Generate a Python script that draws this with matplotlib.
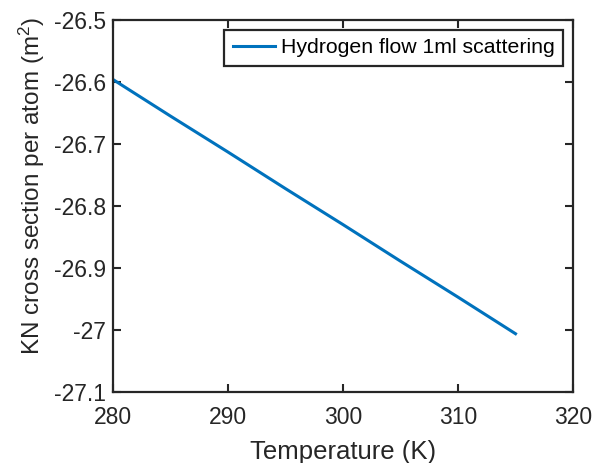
import matplotlib
matplotlib.use("Agg")
import matplotlib.pyplot as plt

# values
temperature = [280, 285, 290, 295, 300, 305, 310, 315]
kn_cross_section = [-26.596, -26.655, -26.713, -26.772, -26.830, -26.889, -26.947, -27.006]
x_ticks = [280, 290, 300, 310, 320]
y_ticks = [-27.1, -27.0, -26.9, -26.8, -26.7, -26.6, -26.5]
y_tick_labels = ["-27.1", "-27", "-26.9", "-26.8", "-26.7", "-26.6", "-26.5"]

plt.rcParams["font.family"] = ["Liberation Sans", "DejaVu Sans"]
plt.rcParams["mathtext.fontset"] = "custom"
plt.rcParams["mathtext.rm"] = "Liberation Sans"

fig = plt.figure(figsize=(5.94, 4.63), dpi=100)
ax = fig.add_axes([113 / 594, 1 - 392 / 463, 460 / 594, 372 / 463])

ax.plot(temperature, kn_cross_section, color="#0072BD", linewidth=2.2,
        label="Hydrogen flow 1ml scattering")

ax.set_xlim(280, 320)
ax.set_ylim(-27.1, -26.5)
ax.set_xticks(x_ticks)
ax.set_yticks(y_ticks)
ax.set_yticklabels(y_tick_labels)

ax.tick_params(direction="in", top=True, right=True, length=6, width=1.5,
               labelsize=16.5, color="#262626", labelcolor="#262626")
ax.tick_params(axis="x", pad=10)
ax.tick_params(axis="y", pad=5)
for spine in ax.spines.values():
    spine.set_linewidth(1.6)
    spine.set_color("#262626")

ax.set_xlabel("Temperature (K)", fontsize=18.5, color="#262626", labelpad=8)
ax.set_ylabel("KN cross section per atom (m$\\mathregular{^2}$)", fontsize=17.5,
              color="#262626")
# ylabel sits a bit above the axes centre in the reference
ax.yaxis.set_label_coords(-(113 - 47) / 460, (392 - 186) / 372)

leg = ax.legend(loc="upper right", fontsize=15.3, fancybox=False, framealpha=1,
                edgecolor="#262626", handlelength=2.0, handletextpad=0.25,
                borderpad=0.42, borderaxespad=0.45)
leg.get_frame().set_linewidth(1.6)

fig.savefig("out.png", dpi=100)
